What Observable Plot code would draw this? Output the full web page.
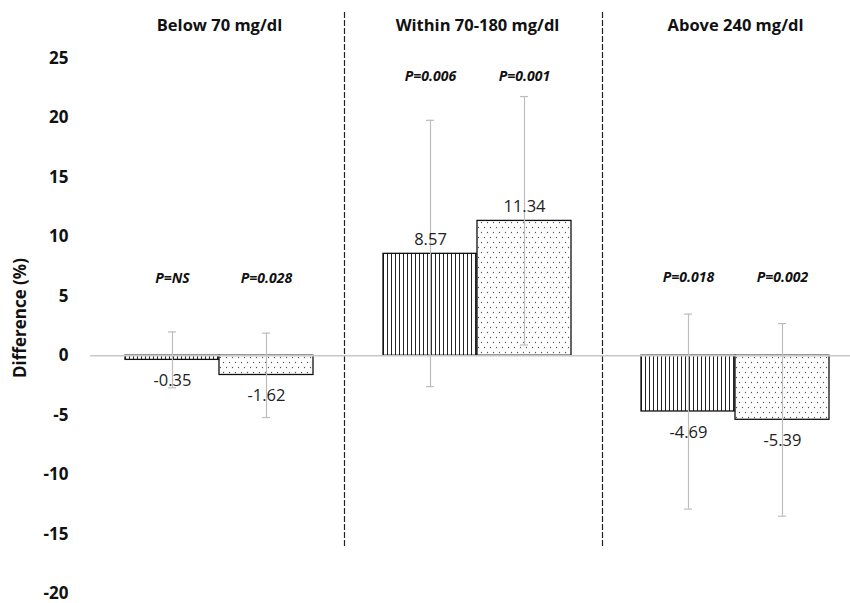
<!DOCTYPE html>
<html><head><meta charset="utf-8">
<script src="https://cdn.jsdelivr.net/npm/d3@7"></script>
<script src="https://cdn.jsdelivr.net/npm/@observablehq/plot@0.6"></script>
<style>
html,body{margin:0;padding:0;background:#fff;overflow:hidden}
#chart svg{display:block}
#chart g[aria-label="y-axis tick label"]{font-weight:bold}
</style></head><body><div id="chart"></div>
<script>
const groups = ["Below 70 mg/dl", "Within 70-180 mg/dl", "Above 240 mg/dl"];
const series = ["A", "B"];
const valuesA = [-0.35, 8.57, -4.69];
const valuesB = [-1.62, 11.34, -5.39];
const lowA = [-2.7, -2.6, -12.9];
const highA = [2.0, 19.8, 3.5];
const lowB = [-5.2, 0.9, -13.5];
const highB = [1.9, 21.8, 2.7];
const pA = ["P=NS", "P=0.006", "P=0.018"];
const pB = ["P=0.028", "P=0.001", "P=0.002"];
const pLabelAt = [6.5, 23.5, 6.6];
const yTicks = [-20, -15, -10, -5, 0, 5, 10, 15, 20, 25];
const yLabel = "Difference (%)";

const rows = [];
groups.forEach((g, i) => {
  rows.push({group: g, series: "A", value: valuesA[i], lo: lowA[i], hi: highA[i], p: pA[i], pAt: pLabelAt[i]});
  rows.push({group: g, series: "B", value: valuesB[i], lo: lowB[i], hi: highB[i], p: pB[i], pAt: pLabelAt[i]});
});

const sepStyle = {anchor: "left", stroke: "#222", strokeWidth: 1.2, strokeDasharray: "5,3", insetTop: -46, insetBottom: 45, dx: -4};
const errStroke = "#bdbdbd";

const chart = Plot.plot({
  width: 850, height: 603,
  marginLeft: 90, marginRight: 0, marginTop: 58, marginBottom: 10,
  style: {fontFamily: "'Open Sans', sans-serif", fontSize: "17px", color: "#111", background: "#fff"},
  fx: {domain: groups, range: [90, 864], padding: 0, axis: null},
  x: {domain: series, paddingInner: 0, paddingOuter: 0.372, axis: null},
  y: {domain: [-20, 25], ticks: yTicks, tickFormat: d => String(d), tickSize: 0, tickPadding: 22, label: null},
  color: {domain: series, range: ["url(#vlines)", "url(#dots)"]},
  marks: [
    Plot.frame({...sepStyle, fx: groups[1]}),
    Plot.frame({...sepStyle, fx: groups[2]}),
    Plot.barY(rows, {fx: "group", x: "series", y: "value", fill: "series", stroke: "#111", strokeWidth: 1.3}),
    Plot.ruleX(rows, {fx: "group", x: "series", y1: "lo", y2: "hi", stroke: errStroke, strokeWidth: 1.2}),
    Plot.tickY(rows, {fx: "group", x: "series", y: "lo", insetLeft: 43, insetRight: 43, stroke: errStroke, strokeWidth: 1.2}),
    Plot.tickY(rows, {fx: "group", x: "series", y: "hi", insetLeft: 43, insetRight: 43, stroke: errStroke, strokeWidth: 1.2}),
    Plot.ruleY([0], {stroke: "#c8c8c8", strokeWidth: 1.5}),
    Plot.text(rows.filter(d => d.value >= 0), {fx: "group", x: "series", y: "value", text: d => d.value.toFixed(2), dy: -14, fontSize: 16.5, fill: "#222"}),
    Plot.text(rows.filter(d => d.value < 0), {fx: "group", x: "series", y: "value", text: d => d.value.toFixed(2), dy: 21, fontSize: 16.5, fill: "#222"}),
    Plot.text(rows, {fx: "group", x: "series", y: "pAt", text: "p", fontWeight: "bold", fontStyle: "italic", fontSize: 14, fill: "#111"}),
    Plot.text(groups, {fx: d => d, text: d => d, frameAnchor: "top", dy: -39, fontWeight: "bold", fontSize: 16.5, fill: "#111"}),
    Plot.text([yLabel], {facet: "super", frameAnchor: "left", rotate: -90, dx: -70, dy: 52, fontWeight: "bold", fontSize: 17, fill: "#111"})
  ]
});

d3.select(chart).insert("defs", ":first-child").html(
  '<pattern id="vlines" patternUnits="userSpaceOnUse" width="4" height="4">' +
  '<rect width="4" height="4" fill="#fff"/><line x1="1.5" y1="0" x2="1.5" y2="4" stroke="#222" stroke-width="1"/></pattern>' +
  '<pattern id="dots" patternUnits="userSpaceOnUse" width="6" height="10">' +
  '<rect width="6" height="10" fill="#fff"/><circle cx="1.5" cy="2.5" r="0.65" fill="#555"/><circle cx="4.5" cy="7.5" r="0.65" fill="#555"/></pattern>'
);

document.getElementById("chart").appendChild(chart);
</script>
</body></html>
